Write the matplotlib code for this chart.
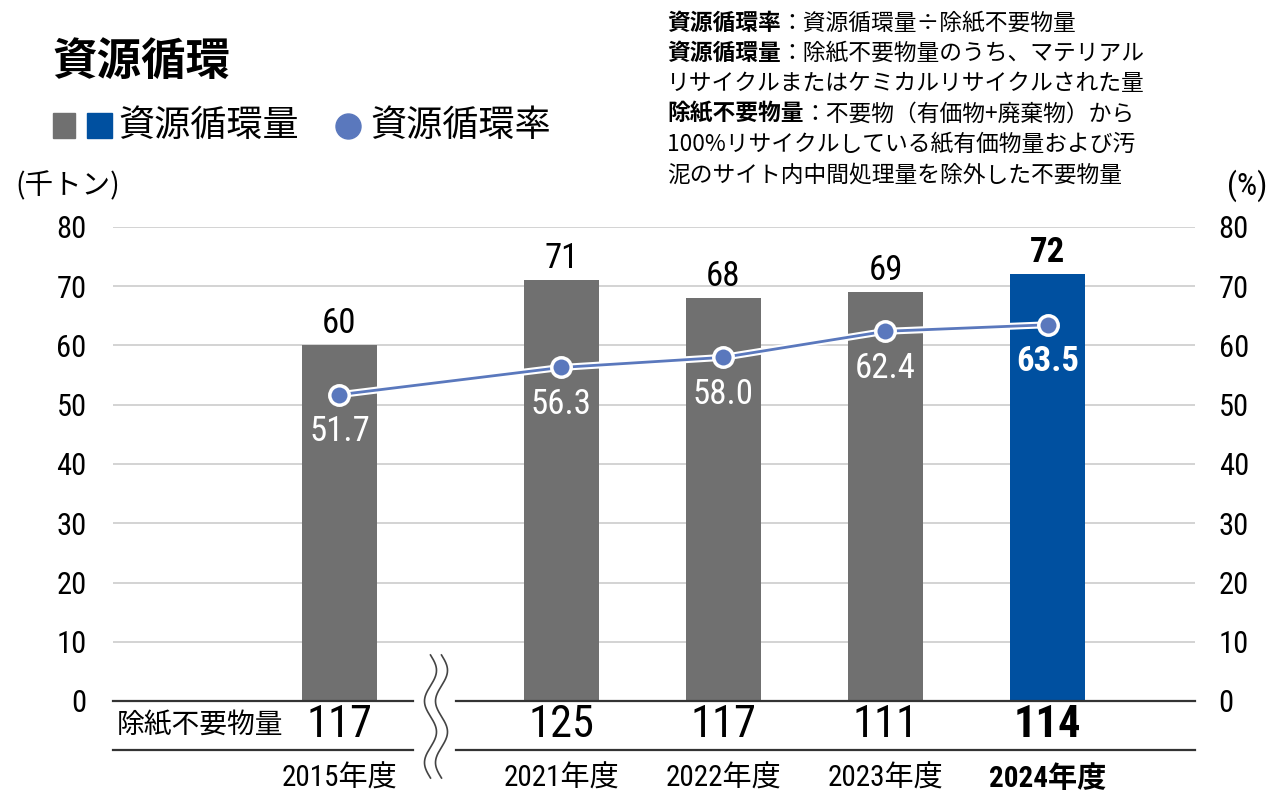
import numpy as np
import matplotlib
matplotlib.use("Agg")
import matplotlib.pyplot as plt
import matplotlib.font_manager as fm
import matplotlib.patheffects as pe
from matplotlib.transforms import blended_transform_factory
from matplotlib.lines import Line2D
from matplotlib.patches import Rectangle

# ---- data ----
years = ["2015年度", "2021年度", "2022年度", "2023年度", "2024年度"]
circulation = [60, 71, 68, 69, 72]          # 資源循環量 (千トン)
rate = [51.7, 56.3, 58.0, 62.4, 63.5]       # 資源循環率 (%)
waste = [117, 125, 117, 111, 114]           # 除紙不要物量
yticks = [0, 10, 20, 30, 40, 50, 60, 70, 80]

# ---- fonts ----
names = {f.name for f in fm.fontManager.ttflist}
narrow = "Roboto Condensed" if "Roboto Condensed" in names else (
    "Archivo Narrow" if "Archivo Narrow" in names else "DejaVu Sans")
JP = "Noto Sans CJK JP"
NUM = [narrow, JP]
plt.rcParams['font.family'] = [JP, 'DejaVu Sans']

W, H = 1280, 811
fig = plt.figure(figsize=(12.8, 8.11), dpi=100)
fx = lambda px: px / W
fy = lambda py: 1 - py / H

ax = fig.add_axes([fx(113), fy(701), fx(1195) - fx(113), fy(227) - fy(701)])
ax2 = ax.twinx()

# positions: break between 2015 and 2021
pos = np.array([0.0, 1.37, 2.37, 3.37, 4.37])
GRAY = "#707070"
BLUE = "#0050a0"
LINEC = "#5a78bd"
colors = [GRAY, GRAY, GRAY, GRAY, BLUE]

ax.bar(pos, circulation, width=0.467, color=colors, zorder=2)
for a in (ax, ax2):
    a.set_ylim(0, 80)
    a.set_xlim(-1.397, 5.28)
    for s in a.spines.values():
        s.set_visible(False)
    a.set_yticks(yticks)
    a.tick_params(axis='y', length=0, labelsize=22)
    a.tick_params(axis='x', length=0, labelbottom=False)
    for lbl in a.get_yticklabels():
        lbl.set_fontfamily(NUM)
ax.tick_params(axis='y', pad=19)
ax2.tick_params(axis='y', pad=17)

for yv in yticks[1:]:
    ax.axhline(yv, color="#d0d0d0", lw=1.3, zorder=1)

# rate line
ax2.plot(pos, rate, color=LINEC, lw=2, zorder=3,
         path_effects=[pe.Stroke(linewidth=5, foreground='white'), pe.Normal()])
ax2.plot(pos, rate, ls='none', marker='o', ms=14, mfc=LINEC, mec='white', mew=2.5, zorder=4)

# labels
for i, (x, v, r) in enumerate(zip(pos, circulation, rate)):
    bold = (i == len(pos) - 1)
    ax.annotate(f"{v}", (x, v), xytext=(0, 22), textcoords='offset pixels',
                ha='center', va='center', fontsize=25, family=NUM,
                fontweight='bold' if bold else 'normal', color='black', zorder=5)
    ax2.annotate(f"{r:.1f}", (x, r), xytext=(0, -37), textcoords='offset pixels',
                 ha='center', va='center', fontsize=25, family=NUM,
                 fontweight='bold' if bold else 'normal', color='white', zorder=5)

tr = blended_transform_factory(ax.transData, fig.transFigure)
for i, (x, w, y) in enumerate(zip(pos, waste, years)):
    bold = (i == len(pos) - 1)
    ax.text(x, fy(725), f"{w}", transform=tr, ha='center', va='center',
            fontsize=32, family=NUM, fontweight='bold' if bold else 'normal')
    ax.text(x, fy(779), y, transform=tr, ha='center', va='center',
            fontsize=21, family=NUM, fontweight='bold' if bold else 'normal')

fig.text(fx(117), fy(725), "除紙不要物量", ha='left', va='center', fontsize=20, family=[JP])

# bottom lines with break
for py in (701, 750):
    for x0, x1 in ((113, 413), (456, 1195)):
        fig.add_artist(Line2D([fx(x0), fx(x1)], [fy(py), fy(py)], color="#333333", lw=1.6))

# wavy break symbol
t = np.linspace(0, 1, 200)
yy = 655 + t * 123
xx = 436 + 6 * np.sin(t * 2 * np.pi * 2.0)
fig.add_artist(Rectangle((fx(424), fy(778)), fx(449) - fx(424), fy(655) - fy(778),
                         facecolor='white', edgecolor='none', zorder=5))
for dx in (-5.5, 5.5):
    fig.add_artist(Line2D([fx(v + dx) for v in xx], [fy(v) for v in yy],
                          color="#444444", lw=1.2, zorder=6))

# title and legend
fig.text(fx(52), fy(62), "資源循環", ha='left', va='center', fontsize=32, fontweight='bold')
fig.add_artist(Rectangle((fx(53), fy(138)), fx(75) - fx(53), fy(113) - fy(138), color=GRAY))
fig.add_artist(Rectangle((fx(87), fy(138)), fx(112) - fx(87), fy(113) - fy(138), color=BLUE))
fig.text(fx(118), fy(126), "資源循環量", ha='left', va='center', fontsize=26)
fig.add_artist(Line2D([fx(347.5)], [fy(126)], marker='o', ms=18, color=LINEC, mec=LINEC))
fig.text(fx(370), fy(126), "資源循環率", ha='left', va='center', fontsize=26)

fig.text(fx(15), fy(186), "(千トン)", ha='left', va='center', fontsize=20.5)
fig.text(fx(1267), fy(186), "(%)", ha='right', va='center', fontsize=23, family=NUM)

# notes (bold head + normal body)
notes = [("資源循環率", "：資源循環量÷除紙不要物量"),
         ("資源循環量", "：除紙不要物量のうち、マテリアル"),
         ("", "リサイクルまたはケミカルリサイクルされた量"),
         ("除紙不要物量", "：不要物（有価物+廃棄物）から"),
         ("", "100%リサイクルしている紙有価物量および汚"),
         ("", "泥のサイト内中間処理量を除外した不要物量")]
fig.canvas.draw()
r = fig.canvas.get_renderer()
for k, (b, n) in enumerate(notes):
    py = 23 + k * 30.4
    x0 = fx(667)
    if b:
        tb = fig.text(x0, fy(py), b, ha='left', va='center', fontsize=16.4, fontweight='bold')
        bb = tb.get_window_extent(r)
        x0 = bb.x1 / W
    fig.text(x0, fy(py), n, ha='left', va='center', fontsize=16.4)

fig.savefig("out.png", dpi=100)
